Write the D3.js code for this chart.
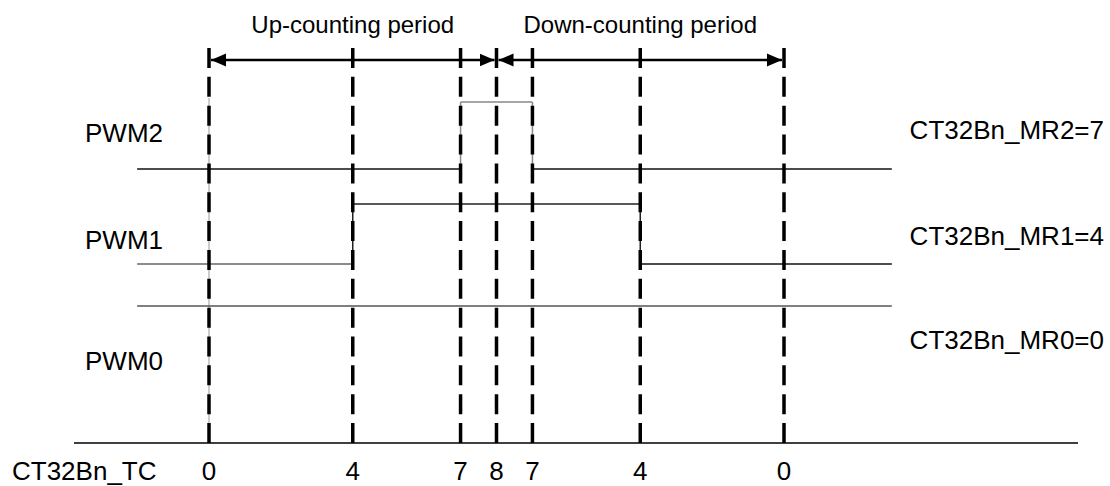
<!DOCTYPE html>
<html>
<head>
<meta charset="utf-8">
<script src="https://cdn.jsdelivr.net/npm/d3@7"></script>
<style>
  html, body { margin: 0; padding: 0; background: #fff; }
  svg { display: block; font-family: "Liberation Sans", Arial, sans-serif; }
</style>
</head>
<body>
<svg id="chart" width="1110" height="486"></svg>
<script>
// ---- data ----
const tcTimes = [0, 4, 7, 8, 9, 12, 16];
const tcLabels = ["0", "4", "7", "8", "7", "4", "0"];
const periodLabels = ["Up-counting period", "Down-counting period"];
const periodStart = [0, 8];
const periodEnd = [8, 16];
const signalNames = ["PWM2", "PWM1", "PWM0"];
const matchLabels = ["CT32Bn_MR2=7", "CT32Bn_MR1=4", "CT32Bn_MR0=0"];
const pwm2Edges = [7, 9];
const pwm1Edges = [4, 12];
const pwm0Edges = [];
const counterName = "CT32Bn_TC";

// ---- layout ----
const svg = d3.select("#chart");
const x = d3.scaleLinear().domain([0, 16]).range([209, 784]);
const tStart = -2, tEnd = 19;
const axisY = 443, dashTop = 48, arrowY = 60;
const rows = [
  { name: signalNames[0], label: matchLabels[0], edges: pwm2Edges, low: 169, high: 102, nameY: 142, labelY: 139,
    colors: ["#111", "#888", "#111"], edge: "#888" },
  { name: signalNames[1], label: matchLabels[1], edges: pwm1Edges, low: 264, high: 204, nameY: 249, labelY: 245,
    colors: ["#666", "#222", "#111"], edge: "#222" },
  { name: signalNames[2], label: matchLabels[2], edges: pwm0Edges, low: 306, high: 306, nameY: 370, labelY: 349,
    colors: ["#555"], edge: "#555" }
];
const nameFs = 26, labelFs = 26, periodFs = 24, tcFs = 26;

// markers
const defs = svg.append("defs");
defs.append("marker").attr("id", "ah").attr("viewBox", "0 -7 15 14")
  .attr("refX", 15).attr("refY", 0).attr("markerWidth", 15).attr("markerHeight", 14)
  .attr("markerUnits", "userSpaceOnUse").attr("orient", "auto-start-reverse")
  .append("path").attr("d", "M0,-6.5L15,0L0,6.5Z").attr("fill", "#000");

// baseline
svg.append("line").attr("x1", 74).attr("x2", 1078).attr("y1", axisY).attr("y2", axisY)
  .attr("stroke", "#000").attr("stroke-width", 1.6);

// thin guide under the first count line
svg.append("line").attr("x1", x(tcTimes[0])).attr("x2", x(tcTimes[0]))
  .attr("y1", 98).attr("y2", axisY).attr("stroke", "#999").attr("stroke-width", 1);

// waveforms
rows.forEach(r => {
  const pts = [];
  let level = 0;
  pts.push([x(tStart), r.low]);
  r.edges.forEach(e => {
    pts.push([x(e), level ? r.high : r.low]);
    level = 1 - level;
    pts.push([x(e), level ? r.high : r.low]);
  });
  pts.push([x(tEnd), level ? r.high : r.low]);
  let seg = 0;
  for (let i = 0; i < pts.length - 1; i++) {
    const a = pts[i], b = pts[i + 1];
    let c;
    if (a[0] === b[0]) c = r.edge;
    else { c = r.colors[Math.min(seg, r.colors.length - 1)]; seg++; }
    svg.append("line").attr("x1", a[0]).attr("y1", a[1]).attr("x2", b[0]).attr("y2", b[1])
      .attr("stroke", c).attr("stroke-width", 1.5);
  }
  svg.append("text").attr("x", 85).attr("y", r.nameY)
    .attr("font-size", nameFs).text(r.name);
  svg.append("text").attr("x", 1104).attr("y", r.labelY)
    .attr("text-anchor", "end").attr("font-size", labelFs).text(r.label);
});

// dashed count lines
svg.selectAll("line.tc").data(tcTimes).join("line").attr("class", "tc")
  .attr("x1", d => x(d)).attr("x2", d => x(d)).attr("y1", dashTop).attr("y2", axisY)
  .attr("stroke", "#000").attr("stroke-width", 3.5).attr("stroke-dasharray", "20,8.85");

// period arrows (tips stop at the edge of the count lines)
periodLabels.forEach((lab, i) => {
  svg.append("line").attr("x1", x(periodStart[i]) + 2).attr("x2", x(periodEnd[i]) - 2)
    .attr("y1", arrowY).attr("y2", arrowY).attr("stroke", "#000").attr("stroke-width", 2.5)
    .attr("marker-start", "url(#ah)").attr("marker-end", "url(#ah)");
  svg.append("text").attr("x", (x(periodStart[i]) + x(periodEnd[i])) / 2).attr("y", 33)
    .attr("text-anchor", "middle").attr("font-size", periodFs).text(lab);
});

// counter labels
const tcBase = 480;
svg.append("text").attr("x", 12).attr("y", tcBase)
  .attr("font-size", tcFs).text(counterName);
svg.selectAll("text.tcl").data(tcTimes).join("text").attr("class", "tcl")
  .attr("x", d => x(d)).attr("y", tcBase).attr("text-anchor", "middle")
  .attr("font-size", tcFs).text((d, i) => tcLabels[i]);
</script>
</body>
</html>
